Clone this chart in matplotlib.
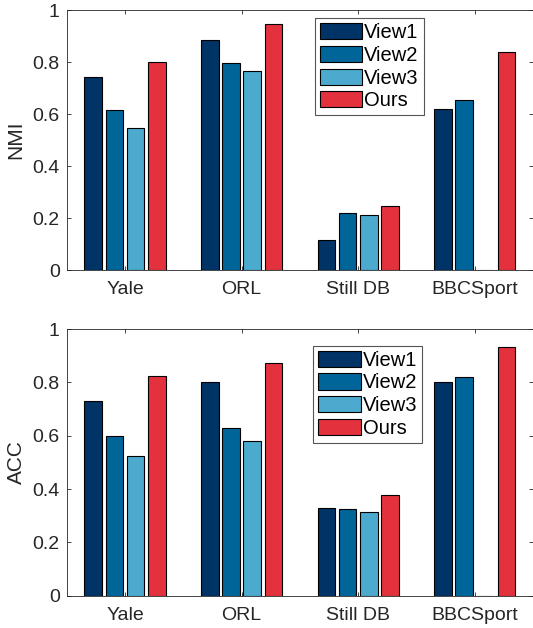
import numpy as np
import matplotlib
matplotlib.use("Agg")
import matplotlib.pyplot as plt

plt.rcParams['font.family'] = ['Liberation Sans', 'DejaVu Sans']

datasets = ["Yale", "ORL", "Still DB", "BBCSport"]
methods = ["View1", "View2", "View3", "Ours"]

nmi_view1 = [0.741, 0.886, 0.115, 0.619]
nmi_view2 = [0.615, 0.795, 0.218, 0.655]
nmi_view3 = [0.547, 0.767, 0.212, 0.0]
nmi_ours = [0.799, 0.945, 0.246, 0.837]

acc_view1 = [0.729, 0.802, 0.330, 0.802]
acc_view2 = [0.599, 0.628, 0.324, 0.821]
acc_view3 = [0.523, 0.581, 0.315, 0.0]
acc_ours = [0.824, 0.871, 0.379, 0.931]

colors = ["#003366", "#00669a", "#4daacf", "#e3323d"]
axcol = "#262626"

fig = plt.figure(figsize=(5.33, 6.28), dpi=100)
ax1 = fig.add_axes([66.7 / 533, 0.570, 466.3 / 533, 0.414])
ax2 = fig.add_axes([66.7 / 533, 0.0514, 466.3 / 533, 0.4247])


def draw(ax, series, ylabel, leg_xy):
    x = np.arange(1, len(datasets) + 1)
    step = 0.182
    for i, vals in enumerate(series):
        ax.bar(x + (i - 1.5) * step, vals, width=0.151, color=colors[i],
               edgecolor="black", linewidth=0.8, label=methods[i], zorder=2)
    ax.set_xlim(0.5, 4.5)
    ax.set_ylim(0, 1)
    ax.set_xticks(x)
    ax.set_xticklabels(datasets)
    ax.set_yticks([0, 0.2, 0.4, 0.6, 0.8, 1])
    ax.set_yticklabels(["0", "0.2", "0.4", "0.6", "0.8", "1"])
    ax.set_ylabel(ylabel, fontsize=15, color=axcol, labelpad=5)
    ax.tick_params(direction="in", length=3, width=0.6, colors=axcol,
                   labelsize=14, top=True, right=True, labelcolor=axcol)
    ax.tick_params(axis="x", pad=8)
    ax.tick_params(axis="y", pad=5)
    for s in ax.spines.values():
        s.set_color(axcol)
        s.set_linewidth(0.6)
    leg = ax.legend(loc="upper left", bbox_to_anchor=leg_xy, fontsize=14.5,
                    handlelength=2.1, handleheight=0.85, handletextpad=0.1,
                    labelspacing=0.18, borderpad=0.25, borderaxespad=0,
                    fancybox=False, framealpha=1, edgecolor="#555555")
    leg.get_frame().set_linewidth(0.8)
    for t in leg.get_texts():
        t.set_color("black")


draw(ax1, [nmi_view1, nmi_view2, nmi_view3, nmi_ours], "NMI", (0.532, 0.968))
draw(ax2, [acc_view1, acc_view2, acc_view3, acc_ours], "ACC", (0.529, 0.937))

fig.savefig("out.png", dpi=100)
